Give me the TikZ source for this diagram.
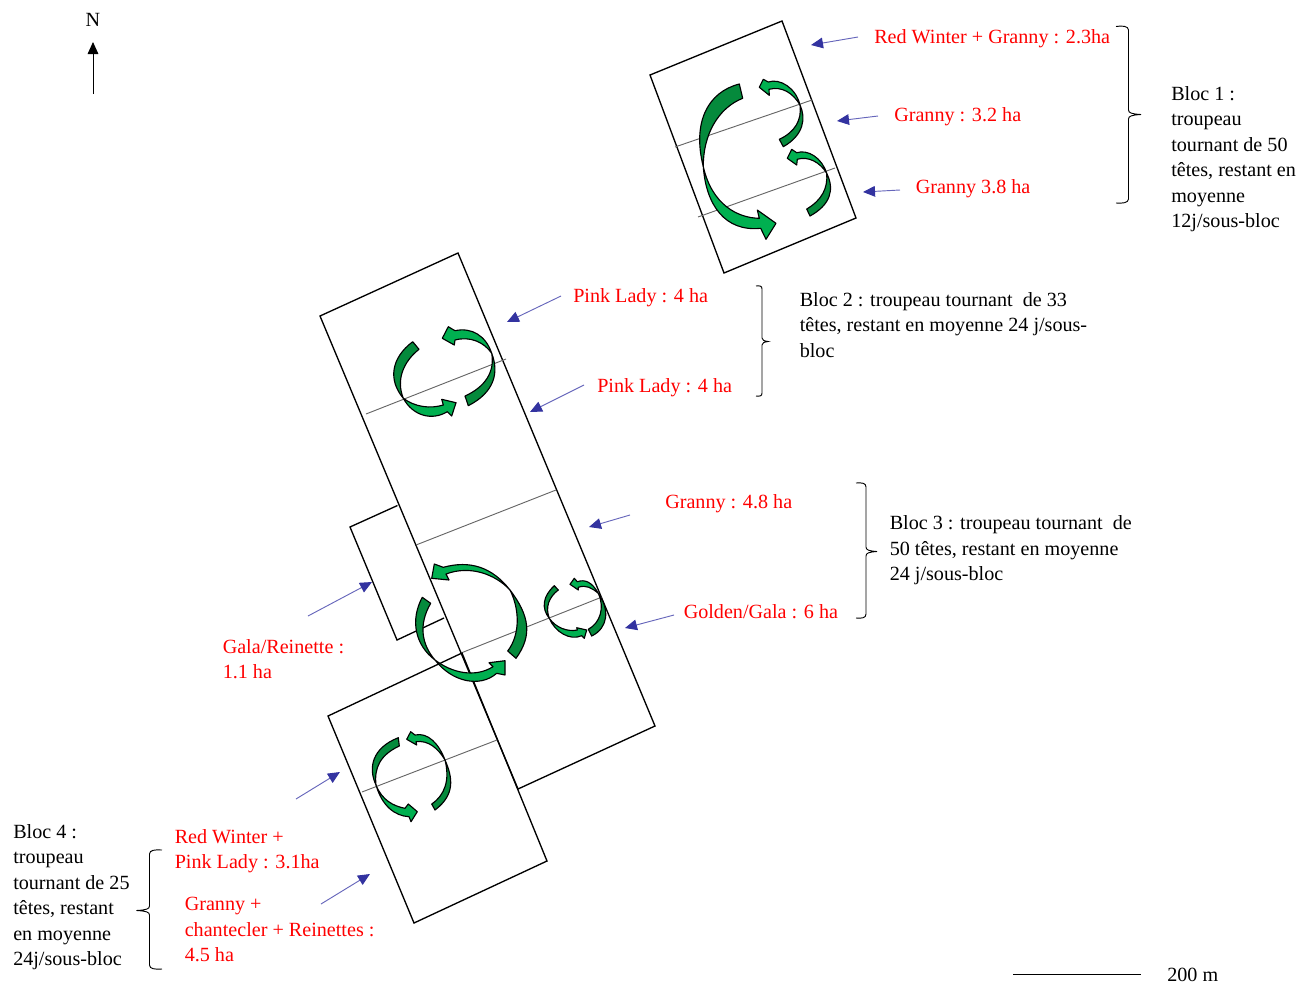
\documentclass[tikz,border=0pt]{standalone}
\usepackage{fontspec}
\setmainfont{Liberation Serif}
\usetikzlibrary{arrows.meta}
\definecolor{lightg}{HTML}{00B050}
\definecolor{darkg}{HTML}{058A3C}
\definecolor{bluehead}{HTML}{3333A0}
\definecolor{blueline}{HTML}{6666BB}
\tikzset{
 x=0.75pt,y=-0.75pt,
 plot/.style={draw=black,line width=1pt,line join=miter},
 divider/.style={draw=black!60,line width=0.7pt},
 lightarrow/.style={fill=lightg,draw=black,line width=0.85pt,line join=round},
 darkarrow/.style={fill=darkg,draw=black,line width=0.85pt,line join=round},
 bluearrow/.style={draw=blueline,line width=0.7pt,-{Triangle[length=9pt,width=8pt,fill=bluehead,color=bluehead]}},
 brace/.style={draw=black,line width=0.7pt},
 lab/.style={anchor=base west,inner sep=0pt,font=\fontsize{15.1}{19.15}\selectfont,align=left},
 redlab/.style={lab,text=red},
 blacklab/.style={lab,text=black},
}
\begin{document}
\begin{tikzpicture}
\useasboundingbox (0,0) rectangle (1314,983);
% plots
\draw[plot] (650,75) -- (782,21) -- (856,218) -- (724,273) -- cycle;
\draw[divider] (675,147) -- (812,100);
\draw[divider] (698,217) -- (835,168);
\draw[plot] (320,316) -- (458,253) -- (655,726) -- (518,789) -- cycle;
\draw[divider] (366,414) -- (506,359);
\draw[divider] (416,545) -- (556,490);
\draw[divider] (461,653) -- (602,597);
\draw[plot] (397.5,505.5) -- (350,527) -- (397,640) -- (444,618);
\draw[plot] (328,716) -- (462,653) -- (547,861) -- (414,923) -- cycle;
\draw[divider] (362,792) -- (497,740);
% bloc 1 rotation arrows
\draw[darkarrow] (739.3,84) .. controls (708,92) and (692,122) .. (703.3,166.7) .. controls (703,135) and (718,108) .. (742.7,98.3) -- cycle;
\draw[lightarrow] (703.3,166.7) .. controls (706,205) and (725,232) .. (760.7,228.3) -- (766,239.3) -- (776,223.3) -- (757.3,210) -- (759.3,218.3) .. controls (738,218) and (712,205) .. cycle;
\draw[darkarrow] (800,105) .. controls (806,118) and (804,135) .. (783.3,146.7) -- (779.3,139.3) .. controls (795,132) and (802,120) .. cycle;
\draw[lightarrow] (800,105) .. controls (796,88) and (780,78) .. (768.3,82) -- (763.3,79.3) -- (759.3,87.3) -- (769.3,95.3) -- (769,89.3) .. controls (782,86) and (793,93) .. cycle;
\draw[darkarrow] (826.7,173.3) .. controls (835,190) and (830,205) .. (810,216) -- (806.7,209) .. controls (822,200) and (828,188) .. cycle;
\draw[lightarrow] (826.7,173.3) .. controls (822,158) and (808,149) .. (796.7,152.7) -- (791.7,149.3) -- (787.3,158.3) -- (796.7,165) -- (797.3,159.3) .. controls (808,156) and (820,162) .. cycle;
% bloc 2 rotation arrows
\draw[darkarrow] (491.7,353.3) .. controls (499,372) and (495,392) .. (468.3,405.7) -- (465,396) .. controls (485,387) and (495,372) .. cycle;
\draw[lightarrow] (491.7,353.3) .. controls (486,336) and (472,327) .. (455,330.7) -- (448.3,326.7) -- (442.3,338.3) -- (454.3,345) -- (455,340) .. controls (470,336) and (484,342) .. cycle;
\draw[darkarrow] (412.7,341.7) .. controls (391,358) and (388,380) .. (403.3,398.3) .. controls (396,380) and (403,362) .. (419,349.3) -- cycle;
\draw[lightarrow] (403.3,398.3) .. controls (413,416) and (432,421) .. (447.3,411.7) -- (451.7,416) -- (456,402.7) -- (441.7,399.3) -- (443.3,405) .. controls (430,409) and (415,407) .. cycle;
% bloc 3 rotation arrows
\draw[lightarrow] (510,590) .. controls (492,567) and (470,560) .. (443.3,567.3) -- (434.3,564) -- (431.7,578.3) -- (449,580) -- (446,574) .. controls (470,565) and (495,574) .. cycle;
\draw[darkarrow] (510,590) .. controls (529,615) and (533,635) .. (516,658.3) -- (507.7,651) .. controls (520,635) and (520,610) .. cycle;
\draw[darkarrow] (422.3,597.3) .. controls (410,620) and (415,645) .. (435,660) .. controls (422,645) and (418,625) .. (430.7,603.3) -- cycle;
\draw[lightarrow] (435,660) .. controls (452,682) and (480,688) .. (496.7,673.3) -- (505,675) -- (505,660.7) -- (489,662.7) -- (493,666.7) .. controls (475,678) and (452,673) .. cycle;
\draw[darkarrow] (598.3,593.3) .. controls (610,610) and (608,628) .. (591.7,636) -- (588.3,629.3) .. controls (600,623) and (605,608) .. cycle;
\draw[lightarrow] (598.3,593.3) .. controls (592,582) and (585,579) .. (577.3,581.7) -- (574.3,578.3) -- (570,584.3) -- (578.3,590) -- (578.3,587.3) .. controls (586,584.5) and (592,588) .. cycle;
\draw[darkarrow] (554.3,585.7) .. controls (543,596) and (541,608) .. (549.3,618.3) .. controls (545,607) and (549,597) .. (558.3,590) -- cycle;
\draw[lightarrow] (549.3,618.3) .. controls (555,632) and (570,641) .. (581.7,635.7) -- (584.3,638.3) -- (586.7,630) -- (576.7,627.7) -- (577.3,630) .. controls (568,632) and (556,628) .. cycle;
% bloc 4 rotation arrows
\draw[lightarrow] (445,760) .. controls (439,744) and (428,732) .. (415,735) -- (410.7,731.7) -- (406.7,739.3) -- (416.7,745) -- (416,741.7) .. controls (428,740) and (438,748) .. cycle;
\draw[darkarrow] (445,760) .. controls (453,778) and (455,795) .. (435,810) -- (431.7,804) .. controls (445,795) and (450,780) .. cycle;
\draw[darkarrow] (398.3,737.7) .. controls (372,748) and (368,768) .. (376,785) .. controls (374,768) and (380,755) .. (399.3,746) -- cycle;
\draw[lightarrow] (376,785) .. controls (382,806) and (395,816) .. (409,816.7) -- (411,821.7) -- (417.3,811.7) -- (408.3,804) -- (405,808.3) .. controls (393,806) and (382,800) .. cycle;
% blue arrows
\coordinate (a1s) at (858,37);  \coordinate (a1e) at (811,45);
\coordinate (a2s) at (878,116); \coordinate (a2e) at (837,121);
\coordinate (a3s) at (900,190); \coordinate (a3e) at (863,192);
\coordinate (a4s) at (561,296); \coordinate (a4e) at (507,322);
\coordinate (a5s) at (584,385); \coordinate (a5e) at (530,412);
\coordinate (a6s) at (630,515); \coordinate (a6e) at (589,527);
\coordinate (a7s) at (674,615); \coordinate (a7e) at (625,628);
\coordinate (a8s) at (308,616); \coordinate (a8e) at (372,582);
\coordinate (a9s) at (296,799); \coordinate (a9e) at (340,772);
\coordinate (a10s) at (321,904); \coordinate (a10e) at (370,874);
\foreach \i in {1,...,10} \draw[bluearrow] (a\i s) -- (a\i e);
% north arrow
\coordinate (ns) at (93,94); \coordinate (ne) at (93,42);
\draw[draw=black,line width=0.7pt,-{Triangle[length=9pt,width=8pt]}] (ns) -- (ne);
\node[blacklab,anchor=base] (north) at (93,26) {N};
% braces
\draw[brace] (1116,26.5) .. controls (1122,25.5) and (1128.5,26) .. (1128.5,30) -- (1128.5,110) .. controls (1128.5,113) and (1132,114) .. (1141,114.5) .. controls (1132,115) and (1128.5,116) .. (1128.5,119) -- (1128.5,199) .. controls (1128.5,203) and (1122,203.5) .. (1116,203);
\draw[brace] (756,286) .. controls (760,285.5) and (762,286) .. (762,289) -- (762,338) .. controls (762,340) and (764,341) .. (768,341.5) .. controls (764,342) and (762,343) .. (762,345) -- (762,393) .. controls (762,396) and (760,396.5) .. (756,396);
\draw[brace] (856,483) .. controls (862,482.5) and (866,483) .. (866,487) -- (866,547) .. controls (866,550) and (869,551) .. (877,551.5) .. controls (869,552) and (866,553) .. (866,556) -- (866,614) .. controls (866,618) and (862,618.5) .. (856,618);
\draw[brace] (162,850) .. controls (155,849.5) and (149.5,850) .. (149.5,854) -- (149.5,906) .. controls (149.5,909) and (146,910) .. (136.5,910.5) .. controls (146,911) and (149.5,912) .. (149.5,915) -- (149.5,965) .. controls (149.5,969) and (155,969.5) .. (162,969);
% scale
\coordinate (sa) at (1013,974); \coordinate (sb) at (1141,974);
\draw[draw=black,line width=0.7pt] (sa) -- (sb);
\node[blacklab] (scale) at (1167,981) {200 m};
% labels
\node[redlab] (l1) at (874,43) {Red Winter + Granny : 2.3ha};
\node[redlab] (l2) at (894,121) {Granny : 3.2 ha};
\node[redlab] (l3) at (915.5,193) {Granny 3.8 ha};
\node[redlab] (l4) at (573,302) {Pink Lady : 4 ha};
\node[redlab] (l5) at (597,392) {Pink Lady : 4 ha};
\node[redlab] (l6) at (665,508) {Granny : 4.8 ha};
\node[redlab] (l7) at (683.5,618) {Golden/Gala : 6 ha};
\node[redlab,anchor=north west] (l8) at (222.5,639) {Gala/Reinette :\\1.1 ha};
\node[redlab,anchor=north west] (l9) at (174.5,829) {Red Winter +\\Pink Lady : 3.1ha};
\node[redlab,anchor=north west] (l10) at (184.5,897) {Granny +\\chantecler + Reinettes :\\4.5 ha};
\node[blacklab,anchor=north west] (b1) at (1171,86) {Bloc 1 :\\troupeau\\tournant de 50\\têtes, restant en\\moyenne\\12j/sous-bloc};
\node[blacklab,anchor=north west] (b2) at (799.5,292) {Bloc 2 : troupeau tournant~ de 33\\têtes, restant en moyenne 24 j/sous-\\bloc};
\node[blacklab,anchor=north west] (b3) at (889.5,515.5) {Bloc 3 : troupeau tournant~ de\\50 têtes, restant en moyenne\\24 j/sous-bloc};
\node[blacklab,anchor=north west] (b4) at (13,824) {Bloc 4 :\\troupeau\\tournant de 25\\têtes, restant\\en moyenne\\24j/sous-bloc};
\end{tikzpicture}
\end{document}
